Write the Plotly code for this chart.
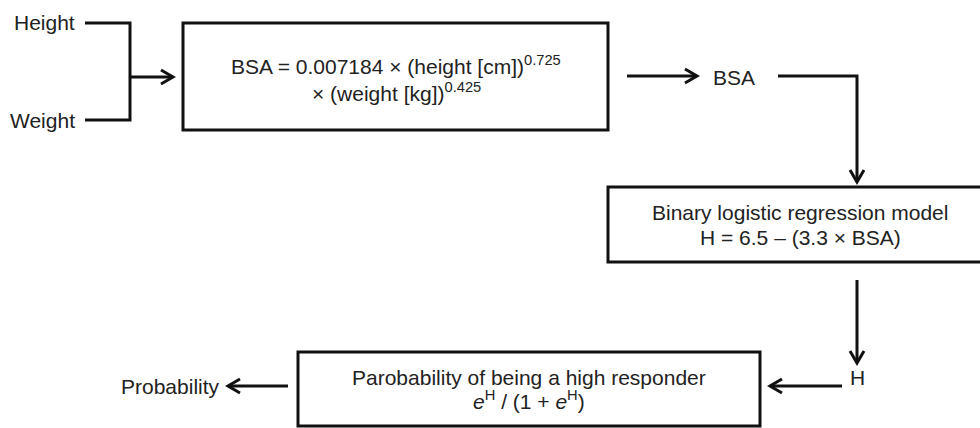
import plotly.graph_objects as go

# ---- content (text of the flowchart) ----
input_labels = ["Height", "Weight"]
bsa_formula_lines = ["BSA = 0.007184 × (height [cm])<sup>0.725</sup>",
                     "× (weight [kg])<sup>0.425</sup>"]
bsa_label = "BSA"
model_lines = ["Binary logistic regression model", "H = 6.5 – (3.3 × BSA)"]
h_label = "H"
prob_lines = ["Parobability of being a high responder",
              "<i>e</i><sup>H</sup> / (1 + <i>e</i><sup>H</sup>)"]
output_label = "Probability"

# ---- layout geometry (pixels in a 980x428 canvas) ----
W, H = 980, 428
LINE = dict(color="#111111", width=3)
TXT = dict(family="Liberation Sans, Arial, sans-serif", size=21, color="#222222")

fig = go.Figure()
shapes = []
annotations = []


def path(d):
    shapes.append(dict(type="path", path=d, xref="x", yref="y", line=LINE))


def rect(x0, y0, x1, y1):
    shapes.append(dict(type="rect", x0=x0, y0=y0, x1=x1, y1=y1, xref="x", yref="y", line=LINE))


def head(x, y, direction, L=12, w=7):
    if direction == "right":
        path(f"M{x-L},{y-w} L{x},{y} L{x-L},{y+w}")
    elif direction == "left":
        path(f"M{x+L},{y-w} L{x},{y} L{x+L},{y+w}")
    elif direction == "down":
        path(f"M{x-w},{y-L} L{x},{y} L{x+w},{y-L}")


def text(s, x, y, anchor="center"):
    annotations.append(dict(text=s, x=x, y=y, xref="x", yref="y", showarrow=False,
                            xanchor=anchor, yanchor="middle", font=TXT))


# inputs bracket
path("M85,23 H130 V120 H85")
text(input_labels[0], 77, 22, "right")
text(input_labels[1], 77, 120, "right")
path("M130,77 H173")
head(173, 77, "right")

# BSA box
rect(183, 23, 608, 130)
text(bsa_formula_lines[0], 396, 65)
text(bsa_formula_lines[1], 396, 92)

# arrow to BSA label
path("M627,76 H697")
head(697, 76, "right")
text(bsa_label, 734, 77)

# BSA -> model box
path("M778,76 H857 V182")
head(857, 182, "down")

rect(608, 187, 992, 262)
text(model_lines[0], 800, 212)
text(model_lines[1], 800, 237)

# model -> H
path("M857,280 V363")
head(857, 363, "down")
text(h_label, 857, 377)

# H -> probability box
path("M842,386 H770")
head(770, 386, "left")

rect(298, 352, 760, 426)
text(prob_lines[0], 529, 377)
text(prob_lines[1], 529, 400)

# probability output
path("M288,386 H228")
head(228, 386, "left")
text(output_label, 222, 386, "right")

fig.update_layout(
    width=W, height=H,
    margin=dict(l=0, r=0, t=0, b=0),
    paper_bgcolor="white", plot_bgcolor="white",
    xaxis=dict(range=[0, W], visible=False, fixedrange=True),
    yaxis=dict(range=[H, 0], visible=False, fixedrange=True),
    shapes=shapes, annotations=annotations,
    showlegend=False,
)

fig.write_html("out.html", post_script="document.body.style.margin='0px';",
               config={"displayModeBar": False})
